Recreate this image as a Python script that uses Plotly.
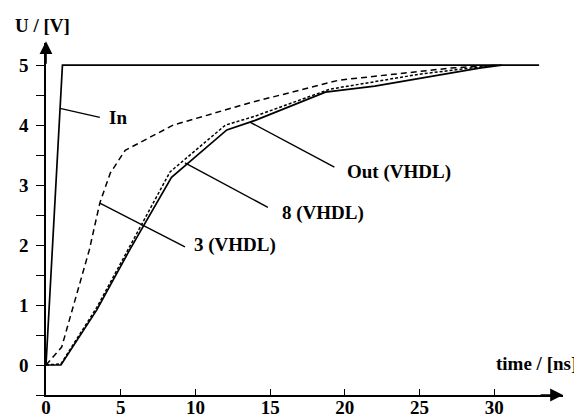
import plotly.graph_objects as go

# Data
in_t = [0, 1.1, 33]
in_u = [0, 5, 5]

out_t = [0, 1.0, 3.4, 5.6, 8.4, 12.1, 14.0, 18.7, 22.0, 29.0, 30.5]
out_u = [0, 0, 0.92, 1.92, 3.13, 3.92, 4.08, 4.55, 4.65, 4.95, 5.0]

v8_t = [0, 1.0, 3.4, 5.6, 8.3, 12.0, 14.0, 19.0, 25.0, 29.0, 30.3]
v8_u = [0, 0.02, 0.96, 1.98, 3.22, 4.0, 4.15, 4.6, 4.85, 4.97, 5.0]

v3_t = [0, 1.05, 2.9, 3.6, 4.3, 5.3, 8.5, 13.6, 19.6, 27.0, 30.0]
v3_u = [0, 0.3, 1.92, 2.7, 3.2, 3.58, 4.0, 4.37, 4.75, 4.95, 5.0]

x_ticks = [0, 5, 10, 15, 20, 25, 30]
y_ticks = [0, 1, 2, 3, 4, 5]

labels = ["In", "3 (VHDL)", "8 (VHDL)", "Out (VHDL)"]
leader_from = [(0.94, 4.28), (3.6, 2.7), (9.3, 3.37), (13.65, 4.05)]
leader_to = [(3.6, 4.13), (9.3, 1.97), (14.85, 2.63), (19.3, 3.3)]
label_pos = [(4.1, 4.12), (9.8, 2.0), (15.65, 2.53), (20.0, 3.22)]

FONT = "Liberation Serif, Times New Roman, serif"

fig = go.Figure()
fig.add_trace(go.Scatter(x=in_t, y=in_u, mode="lines", line=dict(color="black", width=1.7)))
fig.add_trace(go.Scatter(x=out_t, y=out_u, mode="lines", line=dict(color="black", width=1.7)))
fig.add_trace(go.Scatter(x=v8_t, y=v8_u, mode="lines", line=dict(color="black", width=1.5, dash="3px,2px")))
fig.add_trace(go.Scatter(x=v3_t, y=v3_u, mode="lines", line=dict(color="black", width=1.5, dash="6px,4px")))

for (x0, y0), (x1, y1) in zip(leader_from, leader_to):
    fig.add_shape(type="line", x0=x0, y0=y0, x1=x1, y1=y1, xref="x", yref="y",
                  line=dict(color="black", width=1.4))

for txt, (x, y) in zip(labels, label_pos):
    fig.add_annotation(x=x, y=y, text="<b>%s</b>" % txt, showarrow=False, xanchor="left", yanchor="middle",
                       font=dict(family=FONT, size=19, color="black"))

# axis arrows
fig.add_annotation(x=34.6, y=-0.5, ax=33.0, ay=-0.5, xref="x", yref="y", axref="x", ayref="y",
                   text="", showarrow=True, arrowhead=2, arrowsize=1.6, arrowwidth=1.6, arrowcolor="black")
fig.add_annotation(x=0, y=5.4, ax=0, ay=5.0, xref="x", yref="y", axref="x", ayref="y",
                   text="", showarrow=True, arrowhead=2, arrowsize=1.6, arrowwidth=1.6, arrowcolor="black")

# page has an 8px body margin; lay the figure out so the plot lands where the reference has it
OFF = 8
W, H = 582 - OFF, 420 - OFF
ml, mr, mt, mb = 46 - OFF, 19, 43 - OFF, 25
pw, ph = W - ml - mr, H - mt - mb

def px(xp, yp):
    return (xp - OFF - ml) / pw, 1 - (yp - OFF - mt) / ph

ux, uy = px(42, 25)
fig.add_annotation(x=ux, y=uy, xref="paper", yref="paper", text="<b>U / [V]</b>", showarrow=False,
                   xanchor="center", yanchor="middle",
                   font=dict(family=FONT, size=19, color="black"))
tx, ty = px(536, 363)
fig.add_annotation(x=tx, y=ty, xref="paper", yref="paper", text="<b>time / [ns]</b>", showarrow=False,
                   xanchor="center", yanchor="middle",
                   font=dict(family=FONT, size=19, color="black"))

tick_font = dict(family=FONT, size=19, color="black", weight="bold")

fig.update_layout(
    width=W, height=H,
    margin=dict(l=ml, r=mr, t=mt, b=mb, autoexpand=False),
    plot_bgcolor="white", paper_bgcolor="white",
    showlegend=False,
    font=dict(family=FONT, size=18, color="black"),
    xaxis=dict(range=[0, 34.6], tickvals=x_ticks, ticktext=[str(v) for v in x_ticks],
               automargin=False, ticklabelstandoff=-6,
               showline=True, linecolor="black", linewidth=1.6, showgrid=False, zeroline=False,
               ticks="inside", ticklen=6, tickwidth=1.3, tickcolor="black",
               tickfont=tick_font),
    yaxis=dict(range=[-0.5, 5.37], tickvals=y_ticks, ticktext=[str(v) for v in y_ticks],
               automargin=False, ticklabelstandoff=4,
               showline=True, linecolor="black", linewidth=1.6, showgrid=False, zeroline=False,
               ticks="outside", ticklen=8, tickwidth=1.3, tickcolor="black",
               minor=dict(dtick=0.5, tick0=0, ticks="outside", ticklen=8, tickwidth=1.3, tickcolor="black", showgrid=False),
               tickfont=tick_font),
)

fig.write_html("out.html")
